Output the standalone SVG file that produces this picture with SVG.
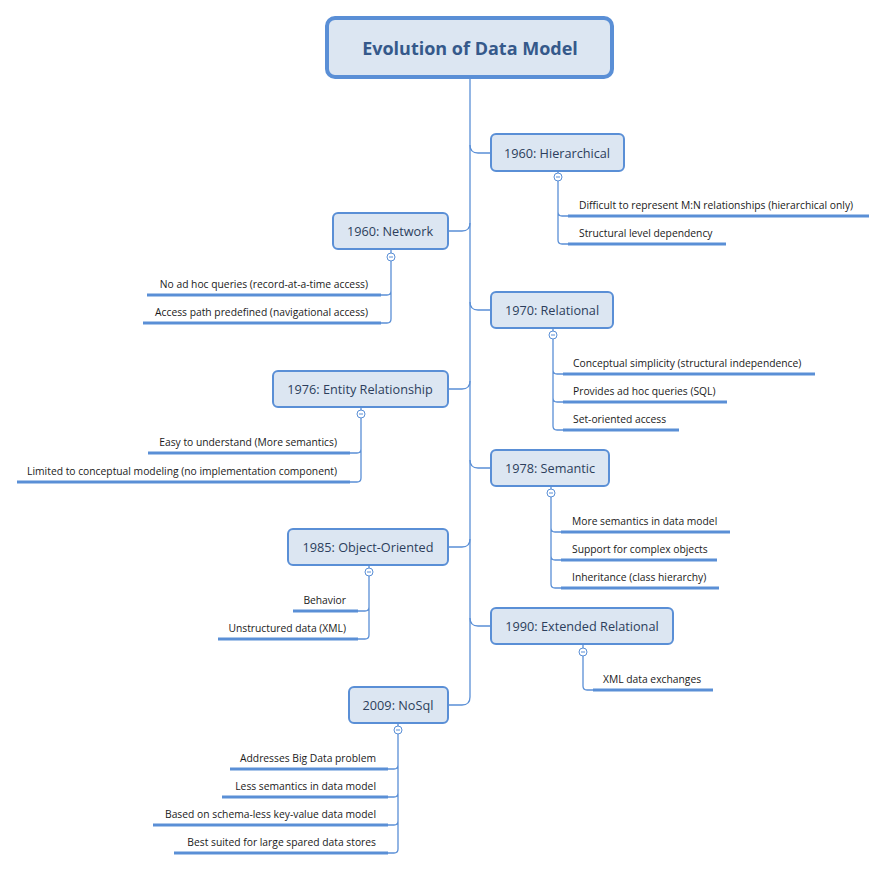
<svg xmlns="http://www.w3.org/2000/svg" width="887" height="870" viewBox="0 0 887 870">
<style>
.bg{fill:#ffffff}
.node rect{fill:#dce6f2;stroke:#5a8fd6;stroke-width:2}
.root rect{fill:#dce6f2;stroke:#5a8fd6;stroke-width:4}
.lbl{font-family:"Open Sans","Liberation Sans",sans-serif;font-size:12.7px;fill:#2c3e5c;text-anchor:middle}
.title{font-family:"Open Sans","Liberation Sans",sans-serif;font-size:18px;font-weight:bold;fill:#35598b;text-anchor:middle}
.item{font-family:"Open Sans","Liberation Sans",sans-serif;font-size:10.3px;fill:#1a1a1a}
.r{text-anchor:end}
.con path{fill:none;stroke:#5a8fd6;stroke-width:1.3}
.ul{stroke:#5a8fd6;stroke-width:3}
.tog circle{fill:#fff;stroke:#5a8fd6;stroke-width:1}
.tog line{stroke:#5a8fd6;stroke-width:1}
</style>
<rect class="bg" width="887" height="870"/>
<g id="connectors" class="con">
<path d="M470,78 V697"/>
<path d="M470,145 Q470,153 478,153 H491"/>
<path d="M470,223 Q470,231 462,231 H448"/>
<path d="M470,302 Q470,310 478,310 H491"/>
<path d="M470,381 Q470,389 462,389 H448"/>
<path d="M470,460 Q470,468 478,468 H491"/>
<path d="M470,539 Q470,547 462,547 H448"/>
<path d="M470,618 Q470,626 478,626 H491"/>
<path d="M470,697 Q470,705 462,705 H448"/>
<path d="M558,171 V173 M558,181 V212 Q558,216 562,216 H568 M558,212 V240 Q558,244 562,244 H568"/>
<path d="M391,249 V253 M391,261 V291 Q391,295 387,295 H381 M391,291 V319 Q391,323 387,323 H381"/>
<path d="M553,328 V331 M553,339 V370 Q553,374 557,374 H563 M553,370 V398 Q553,402 557,402 H563 M553,398 V426 Q553,430 557,430 H563"/>
<path d="M361,407 V410 M361,418 V449 Q361,453 357,453 H350 M361,449 V478 Q361,482 357,482 H350"/>
<path d="M551,486 V489 M551,497 V528 Q551,532 555,532 H561 M551,528 V556 Q551,560 555,560 H561 M551,556 V584 Q551,588 555,588 H561"/>
<path d="M369,565 V568 M369,576 V607 Q369,611 365,611 H358 M369,607 V635 Q369,639 365,639 H358"/>
<path d="M583,644 V648 M583,656 V686 Q583,690 587,690 H593"/>
<path d="M398,723 V726 M398,734 V765 Q398,769 394,769 H388 M398,765 V793 Q398,797 394,797 H388 M398,793 V821 Q398,825 394,825 H388 M398,821 V849 Q398,853 394,853 H388"/>
</g>
<g id="root" class="root">
<rect x="327" y="18" width="285" height="59" rx="8"/>
<text class="title" x="470" y="55">Evolution of Data Model</text>
</g>
<g id="n-hier" class="node">
<rect x="491" y="134" width="133" height="37" rx="5"/>
<text class="lbl" x="557" y="157.5">1960: Hierarchical</text>
<g class="tog"><circle cx="558" cy="177" r="4"/><line x1="556" y1="177" x2="560" y2="177"/></g>
<line class="ul" x1="568" y1="216" x2="869" y2="216"/>
<text class="item" x="579" y="209">Difficult to represent M:N relationships (hierarchical only)</text>
<line class="ul" x1="568" y1="244" x2="726" y2="244"/>
<text class="item" x="579" y="237">Structural level dependency</text>
</g>
<g id="n-net" class="node">
<rect x="333" y="213" width="115" height="36" rx="5"/>
<text class="lbl" x="390" y="235.5">1960: Network</text>
<g class="tog"><circle cx="391" cy="257" r="4"/><line x1="389" y1="257" x2="393" y2="257"/></g>
<line class="ul" x1="147" y1="295" x2="381" y2="295"/>
<text class="item r" x="368" y="288">No ad hoc queries (record-at-a-time access)</text>
<line class="ul" x1="143" y1="323" x2="381" y2="323"/>
<text class="item r" x="368" y="316">Access path predefined (navigational access)</text>
</g>
<g id="n-rel" class="node">
<rect x="491" y="292" width="122" height="36" rx="5"/>
<text class="lbl" x="552" y="314.5">1970: Relational</text>
<g class="tog"><circle cx="553" cy="335" r="4"/><line x1="551" y1="335" x2="555" y2="335"/></g>
<line class="ul" x1="563" y1="374" x2="815" y2="374"/>
<text class="item" x="573" y="367">Conceptual simplicity (structural independence)</text>
<line class="ul" x1="563" y1="402" x2="727" y2="402"/>
<text class="item" x="573" y="395">Provides ad hoc queries (SQL)</text>
<line class="ul" x1="563" y1="430" x2="679" y2="430"/>
<text class="item" x="573" y="423">Set-oriented access</text>
</g>
<g id="n-er" class="node">
<rect x="273" y="371" width="175" height="36" rx="5"/>
<text class="lbl" x="360" y="393.5">1976: Entity Relationship</text>
<g class="tog"><circle cx="361" cy="414" r="4"/><line x1="359" y1="414" x2="363" y2="414"/></g>
<line class="ul" x1="148" y1="453" x2="350" y2="453"/>
<text class="item r" x="337" y="446">Easy to understand (More semantics)</text>
<line class="ul" x1="17" y1="482" x2="350" y2="482"/>
<text class="item r" x="337" y="475">Limited to conceptual modeling (no implementation component)</text>
</g>
<g id="n-sem" class="node">
<rect x="491" y="450" width="118" height="36" rx="5"/>
<text class="lbl" x="550" y="472.5">1978: Semantic</text>
<g class="tog"><circle cx="551" cy="493" r="4"/><line x1="549" y1="493" x2="553" y2="493"/></g>
<line class="ul" x1="561" y1="532" x2="730" y2="532"/>
<text class="item" x="572" y="525">More semantics in data model</text>
<line class="ul" x1="561" y1="560" x2="717" y2="560"/>
<text class="item" x="572" y="553">Support for complex objects</text>
<line class="ul" x1="561" y1="588" x2="719" y2="588"/>
<text class="item" x="572" y="581">Inheritance (class hierarchy)</text>
</g>
<g id="n-oo" class="node">
<rect x="288" y="529" width="160" height="36" rx="5"/>
<text class="lbl" x="368" y="551.5">1985: Object-Oriented</text>
<g class="tog"><circle cx="369" cy="572" r="4"/><line x1="367" y1="572" x2="371" y2="572"/></g>
<line class="ul" x1="293" y1="611" x2="358" y2="611"/>
<text class="item r" x="346" y="604">Behavior</text>
<line class="ul" x1="218" y1="639" x2="358" y2="639"/>
<text class="item r" x="346" y="632">Unstructured data (XML)</text>
</g>
<g id="n-ext" class="node">
<rect x="491" y="608" width="182" height="36" rx="5"/>
<text class="lbl" x="582" y="630.5">1990: Extended Relational</text>
<g class="tog"><circle cx="583" cy="652" r="4"/><line x1="581" y1="652" x2="585" y2="652"/></g>
<line class="ul" x1="593" y1="690" x2="713" y2="690"/>
<text class="item" x="603" y="683">XML data exchanges</text>
</g>
<g id="n-nosql" class="node">
<rect x="349" y="687" width="99" height="36" rx="5"/>
<text class="lbl" x="398" y="709.5">2009: NoSql</text>
<g class="tog"><circle cx="398" cy="730" r="4"/><line x1="396" y1="730" x2="400" y2="730"/></g>
<line class="ul" x1="230" y1="769" x2="388" y2="769"/>
<text class="item r" x="376" y="762">Addresses Big Data problem</text>
<line class="ul" x1="222" y1="797" x2="388" y2="797"/>
<text class="item r" x="376" y="790">Less semantics in data model</text>
<line class="ul" x1="153" y1="825" x2="388" y2="825"/>
<text class="item r" x="376" y="818">Based on schema-less key-value data model</text>
<line class="ul" x1="174" y1="853" x2="388" y2="853"/>
<text class="item r" x="376" y="846">Best suited for large spared data stores</text>
</g>
</svg>
